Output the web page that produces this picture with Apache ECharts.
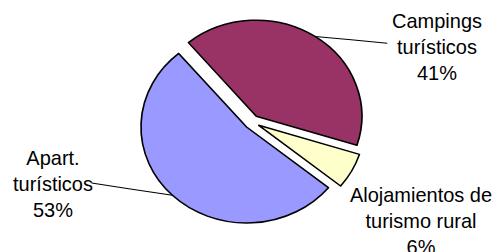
<!DOCTYPE html>
<html>
<head>
<meta charset="utf-8">
<script src="https://cdn.jsdelivr.net/npm/echarts@6/dist/echarts.min.js"></script>
<style>
  html, body { margin: 0; padding: 0; background: #fff; overflow: hidden; }
  /* the source pie is a bit wider than tall, so the chart is stretched in x */
  #chart { width: 453.6px; height: 252px; transform: scaleX(1.1); transform-origin: 0 0; }
</style>
</head>
<body>
<div id="chart"></div>
<script>
var SX = 1.1;

// categorias y porcentajes
var categories = ['Campings\nturísticos', 'Alojamientos de\nturismo rural', 'Apart.\nturísticos'];
var values = [41, 6, 53];
var colors = ['#993366', '#FFFFCC', '#9999FF'];

// centro de cada bloque de texto y fin de la linea guia (pixeles de pagina)
var labelPos = [[437, 47], [421, 221], [53, 184]];
var lineEnd = [[383, 49], null, [97, 178]];

var myChart = echarts.init(document.getElementById('chart'), null, { renderer: 'svg' });

var total = 0;
for (var k = 0; k < values.length; k++) total += values[k];

var data = [];
var texts = [];
for (var i = 0; i < categories.length; i++) {
    var hasLine = lineEnd[i] != null;
    data.push({
        name: categories[i],
        value: values[i],
        selected: true,
        itemStyle: { color: colors[i] },
        label: { show: hasLine },
        labelLine: { show: hasLine }
    });
    texts.push({
        type: 'text',
        x: labelPos[i][0] / SX,
        y: labelPos[i][1],
        scaleX: 1 / SX,
        silent: true,
        style: {
            text: categories[i] + '\n' + Math.round(values[i] / total * 100) + '%',
            fill: '#000000',
            fontFamily: 'Liberation Sans, Arial, sans-serif',
            fontSize: 20,
            lineHeight: 26.5,
            align: 'center',
            verticalAlign: 'middle'
        }
    });
}

option = {
    backgroundColor: '#ffffff',
    animation: false,
    graphic: texts,
    series: [
        {
            type: 'pie',
            center: [252 / SX, 122],
            radius: 96,
            startAngle: 130,
            clockwise: true,
            selectedMode: 'multiple',
            selectedOffset: 7,
            avoidLabelOverlap: false,
            itemStyle: {
                borderColor: '#000000',
                borderWidth: 1.5
            },
            // the label itself is drawn by the graphic texts, only its guide line is kept
            label: {
                show: true,
                position: 'outside',
                formatter: '{b}',
                color: 'rgba(0,0,0,0)',
                fontSize: 12
            },
            labelLine: {
                show: true,
                length: 10,
                length2: 10,
                lineStyle: { color: '#000000', width: 1 }
            },
            labelLayout: function (params) {
                var pts = params.labelLinePoints;
                var e = lineEnd[params.dataIndex];
                if (!pts || !e) return {};
                var end = [e[0] / SX, e[1]];
                var mid = [(pts[0][0] + end[0]) / 2, (pts[0][1] + end[1]) / 2];
                return { labelLinePoints: [pts[0], mid, end] };
            },
            emphasis: { disabled: true },
            data: data
        }
    ]
};
myChart.setOption(option);
</script>
</body>
</html>
